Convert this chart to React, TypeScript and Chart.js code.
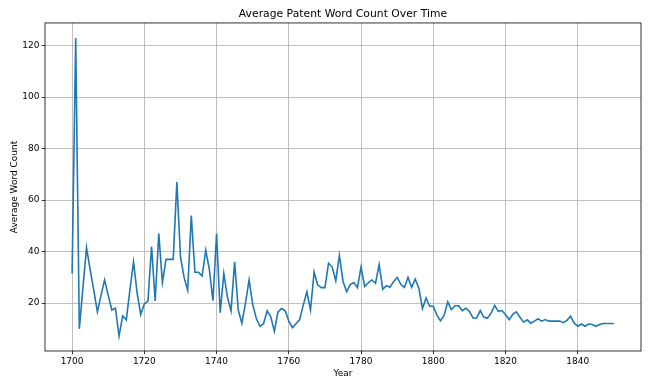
import React, { useEffect, useRef } from "react";
import { Chart, registerables } from "chart.js";

Chart.register(...registerables);

const startYear = 1700;

const avgWordCount = [
  31.5, 123, 10, 26, 41.5, 33, 25, 16.6, 23, 29,
  23, 17.3, 18, 7.2, 15, 13.5, 25, 36, 24, 15.6,
  19.7, 20.8, 42, 20.8, 47, 28, 37, 37, 37, 67,
  38, 30, 25, 54, 32, 32, 30.5, 40.5, 33, 21,
  47, 16.3, 31.5, 22.4, 17, 36, 17.3, 12.1, 20, 29,
  19.5, 14, 11, 12, 17, 14.7, 9.1, 16.6, 17.9, 17,
  13, 10.5, 12, 13.6, 19.2, 24.4, 17.3, 32, 27, 26,
  26, 35.5, 34, 28.7, 38.5, 28.5, 24.4, 27.2, 28, 26,
  34, 26.4, 27.9, 29, 27.7, 35, 25.4, 26.8, 26.2, 28.3,
  30, 27.3, 26.1, 30, 26.1, 29.3, 25.8, 17.9, 22, 18.8,
  18.8, 15.3, 13.1, 15.3, 20.5, 17.5, 19, 19, 17.1, 18,
  16.8, 14.2, 14.2, 17.1, 14.5, 14.2, 16.1, 19.1, 16.8, 17.1,
  15.5, 13.6, 15.6, 16.6, 14.5, 12.6, 13.5, 12.2, 13, 13.9,
  13, 13.6, 13, 13, 13, 13, 12.4, 13.3, 14.9, 12.2,
  11, 11.9, 11, 11.9, 11.7, 11, 11.7, 12.1, 12.1, 12.1,
  12.1,
];

const years = avgWordCount.map((_, i) => startYear + i);

const xTicks = [1700, 1720, 1740, 1760, 1780, 1800, 1820, 1840];
const yTicks = [20, 40, 60, 80, 100, 120];

const chartTitle = "Average Patent Word Count Over Time";
const xLabel = "Year";
const yLabel = "Average Word Count";

const FONT = "'DejaVu Sans', sans-serif";

const framePlugin = {
  id: "frame",
  afterDraw(chart: any) {
    const { ctx, chartArea: a } = chart;
    ctx.save();
    ctx.strokeStyle = "#000";
    ctx.lineWidth = 0.8;
    ctx.strokeRect(a.left, a.top, a.right - a.left, a.bottom - a.top);
    ctx.restore();
  },
};

export default function App() {
  const canvasRef = useRef<HTMLCanvasElement | null>(null);

  useEffect(() => {
    document.body.style.margin = "0";
    const canvas = canvasRef.current;
    if (!canvas) return;
    const chart = new Chart(canvas, {
      type: "line",
      data: {
        datasets: [
          {
            data: years.map((x, i) => ({ x, y: avgWordCount[i] })),
            borderColor: "#1f77b4",
            backgroundColor: "#1f77b4",
            borderWidth: 1.6,
            pointRadius: 0,
            fill: false,
            tension: 0,
          },
        ],
      },
      options: {
        animation: false,
        responsive: false,
        devicePixelRatio: 1,
        layout: { padding: { left: 0, right: 7, top: 0, bottom: 0 } },
        plugins: {
          legend: { display: false },
          tooltip: { enabled: false },
          title: {
            display: true,
            text: chartTitle,
            color: "#000",
            fullSize: false,
            font: { family: FONT, size: 10.8, weight: "normal" },
            padding: { top: 7.8, bottom: 2.2 },
          },
        },
        scales: {
          x: {
            type: "linear",
            min: 1692.5,
            max: 1857.5,
            afterBuildTicks: (s: any) => {
              s.ticks = xTicks.map((v) => ({ value: v }));
            },
            afterFit: (s: any) => {
              s.height = 38;
            },
            ticks: {
              callback: (v: any) => String(v),
              color: "#000",
              font: { family: FONT, size: 9 },
              padding: 2.3,
              maxRotation: 0,
              autoSkip: false,
            },
            grid: {
              color: "#b0b0b0",
              lineWidth: 0.8,
              tickColor: "#000",
              tickLength: 3.2,
              tickWidth: 0.8,
            },
            border: { display: false },
            title: {
              display: true,
              text: xLabel,
              color: "#000",
              font: { family: FONT, size: 9 },
              padding: { top: 0, bottom: 9.6 },
            },
          },
          y: {
            type: "linear",
            min: 1.4,
            max: 128.8,
            afterBuildTicks: (s: any) => {
              s.ticks = yTicks.map((v) => ({ value: v }));
            },
            afterFit: (s: any) => {
              s.width = 45;
            },
            ticks: {
              callback: (v: any) => String(v),
              color: "#000",
              font: { family: FONT, size: 9 },
              padding: 2.3,
              autoSkip: false,
            },
            grid: {
              color: "#b0b0b0",
              lineWidth: 0.8,
              tickColor: "#000",
              tickLength: 3.2,
              tickWidth: 0.8,
            },
            border: { display: false },
            title: {
              display: true,
              text: yLabel,
              color: "#000",
              font: { family: FONT, size: 9 },
              padding: { top: 9.6, bottom: 0 },
            },
          },
        },
      },
      plugins: [framePlugin],
    });
    return () => chart.destroy();
  }, []);

  return (
    <div style={{ position: "absolute", left: 0, top: 0, width: 648, height: 389, background: "#fff" }}>
      <canvas ref={canvasRef} width={648} height={389} />
    </div>
  );
}
